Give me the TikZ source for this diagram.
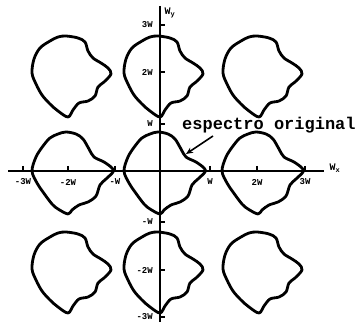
\documentclass[tikz,border=0pt]{standalone}
\usepackage{fontspec}
\usetikzlibrary{arrows.meta}
\newfontfamily\tw{Liberation Mono}
\begin{document}
\begin{tikzpicture}[x=1pt,y=-1pt,
  spec/.style={line width=2.8pt,line join=round},
  haxis/.style={line width=2.8pt},
  vaxis/.style={line width=1.8pt},
  tickmark/.style={line width=1.2pt},
  ticklbl/.style={font=\tw\bfseries\fontsize{9}{9}\selectfont,inner sep=0pt},
  axlbl/.style={font=\tw\bfseries\fontsize{10}{10}\selectfont,inner sep=0pt},
  biglbl/.style={font=\tw\bfseries\fontsize{17}{17}\selectfont,inner sep=0pt},
  specA/.pic={\draw[spec] plot[smooth cycle,tension=0.55] coordinates {
    (-2,-38) (10,-36) (17,-32) (20,-23) (25,-16) (33,-11) (40,-6) (43,0)
    (36,8) (30,13) (27,22) (20,27) (11,29) (5,36) (0,43) (-10,37)
    (-18,30) (-26,21) (-32,10) (-36,-1) (-34,-15) (-28,-26) (-18,-33) (-10,-37)};},
  specB/.pic={\draw[spec] plot[smooth cycle,tension=0.55] coordinates {
    (-2,-39) (8,-37) (15,-32) (21,-22) (26,-14) (36,-9) (44,-3) (45,1)
    (38,8) (32,14) (28,25) (20,31) (11,34) (4,39) (0,43) (-10,38)
    (-16,33) (-25,21) (-31,12) (-36,0) (-32,-14) (-25,-25) (-18,-33) (-10,-37)};}
]
\useasboundingbox (0,0) rectangle (362,326);
% replicas
\pic at (68,74) {specA};
\pic at (160,74) {specA};
\pic at (259,74) {specA};
\pic at (68,171) {specB};
\pic at (160,171) {specB};
\pic at (258,171) {specB};
\pic at (68,270) {specA};
\pic at (160,270) {specA};
\pic at (259,270) {specA};
% axes
\coordinate (xl) at (8,171);
\coordinate (xr) at (324,171);
\coordinate (yt) at (160,6);
\coordinate (yb) at (160,322);
\draw[haxis] (xl) -- (xr);
\draw[vaxis] (yt) -- (yb);
% x ticks
\foreach \x/\t in {23/-3W,68/-2W,115/-W,210/W,257/2W,305/3W}{
  \draw[tickmark] (\x,166) -- (\x,171);
  \node[ticklbl] at (\x,182) {\t};
}
% y ticks
\foreach \y/\t in {25/3W,72/2W,124/W,222/-W,270/-2W,317/-3W}{
  \draw[tickmark] (160,\y) -- (165,\y);
  \node[ticklbl,anchor=east] at (153,\y) {\t};
}
\node[axlbl] (wy) at (170,13) {W\textsubscript{y}};
\node[axlbl] (wx) at (335,168) {W\textsubscript{x}};
% label
\node[biglbl,anchor=base west] (orig) at (182,130) {espectro original};
\coordinate (as) at (213,136);
\coordinate (at) at (186,154);
\draw[line width=1.6pt,-{Stealth[length=7pt,width=6pt]}] (as) -- (at);
\end{tikzpicture}
\end{document}
